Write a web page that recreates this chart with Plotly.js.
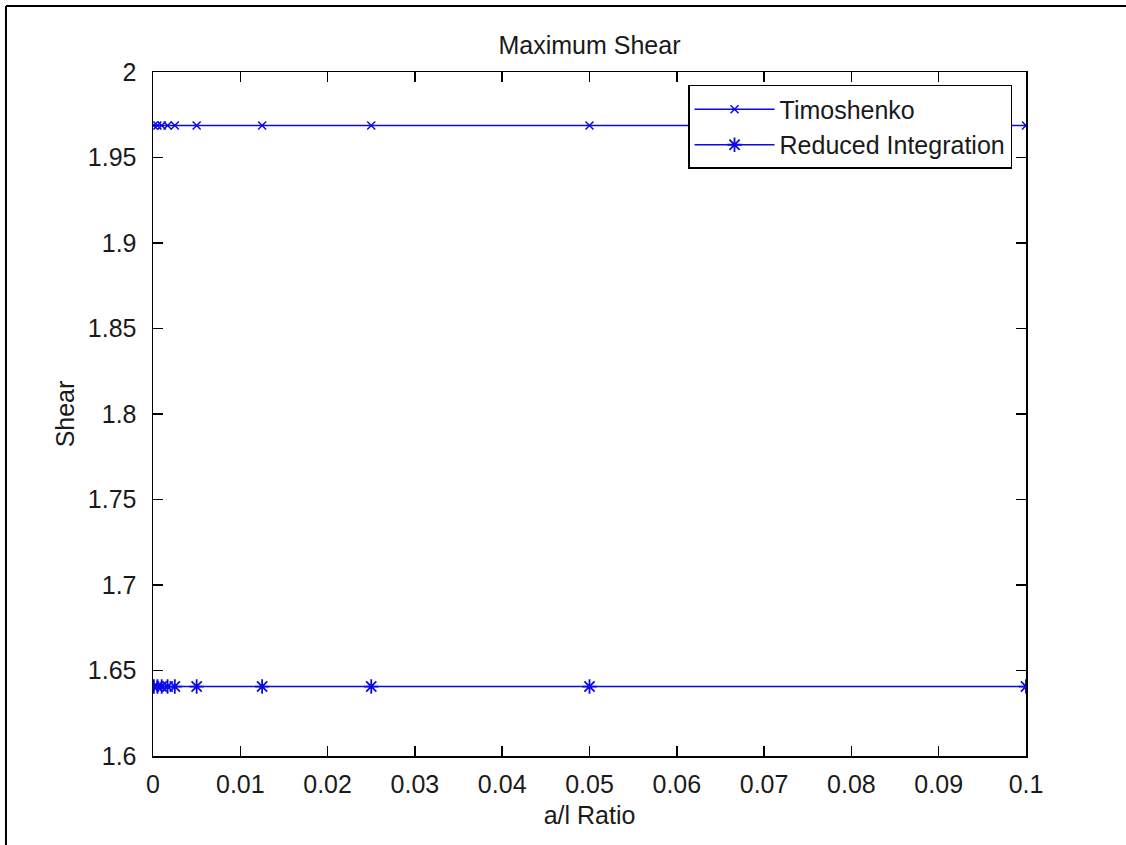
<!DOCTYPE html>
<html>
<head>
<meta charset="utf-8">
<script src="https://cdn.plot.ly/plotly-3.0.1.min.js"></script>
<style>
html,body{margin:0;padding:0;background:#fff;}
#chart{width:1126px;height:845px;}
</style>
</head>
<body>
<div id="chart"></div>
<script>
// a/l ratios
var ratios = [0.0001, 0.0005, 0.001, 0.00167, 0.0025, 0.005, 0.0125, 0.025, 0.05, 0.1];
var timoshenkoShear = [1.96875, 1.96875, 1.96875, 1.96875, 1.96875, 1.96875, 1.96875, 1.96875, 1.96875, 1.96875];
var reducedShear = [1.640625, 1.640625, 1.640625, 1.640625, 1.640625, 1.640625, 1.640625, 1.640625, 1.640625, 1.640625];
var xTicks = [0, 0.01, 0.02, 0.03, 0.04, 0.05, 0.06, 0.07, 0.08, 0.09, 0.1];
var xTickLabels = ['0', '0.01', '0.02', '0.03', '0.04', '0.05', '0.06', '0.07', '0.08', '0.09', '0.1'];
var yTicks = [1.6, 1.65, 1.7, 1.75, 1.8, 1.85, 1.9, 1.95, 2];
var yTickLabels = ['1.6', '1.65', '1.7', '1.75', '1.8', '1.85', '1.9', '1.95', '2'];

var font = {family: 'Liberation Sans, Arial, sans-serif', size: 25, color: '#1a1a1a'};

var traces = [
  {
    x: ratios, y: timoshenkoShear, name: 'Timoshenko', mode: 'lines+markers',
    line: {color: '#0a0ae6', width: 1.5},
    marker: {symbol: 'x-thin-open', size: 8, color: '#0a0ae6', line: {color: '#0a0ae6', width: 1.5}}
  },
  {
    x: ratios, y: reducedShear, name: 'Reduced Integration', mode: 'lines+markers',
    line: {color: '#0a0ae6', width: 1.5},
    marker: {symbol: 'asterisk-open', size: 12, color: '#0a0ae6', line: {color: '#0a0ae6', width: 1.8}}
  }
];

var layout = {
  width: 1126, height: 845,
  margin: {l: 153, r: 100, t: 72, b: 89, pad: 0},
  paper_bgcolor: '#ffffff', plot_bgcolor: '#ffffff',
  font: font,
  showlegend: true,
  title: {text: 'Maximum Shear', font: font, x: 0.5, xref: 'paper', xanchor: 'center', y: 1 - 45/845, yanchor: 'middle'},
  xaxis: {
    range: [0, 0.1], tickvals: xTicks, ticktext: xTickLabels,
    ticks: 'inside', ticklen: 10, tickwidth: 1.5, tickcolor: '#000',
    showline: true, linecolor: '#000', linewidth: 1.5, mirror: 'ticks',
    showgrid: false, zeroline: false, ticklabelstandoff: 5,
    tickfont: font,
    title: {text: 'a/l Ratio', font: font, standoff: 10}
  },
  yaxis: {
    range: [1.6, 2], tickvals: yTicks, ticktext: yTickLabels,
    ticks: 'inside', ticklen: 10, tickwidth: 1.5, tickcolor: '#000',
    showline: true, linecolor: '#000', linewidth: 1.5, mirror: 'ticks',
    showgrid: false, zeroline: false, ticklabelstandoff: 10,
    tickfont: font,
    title: {text: 'Shear', font: font, standoff: 6}
  },
  legend: {
    x: 0.984, xanchor: 'right', y: 0.981, yanchor: 'top',
    bgcolor: '#ffffff', bordercolor: '#000', borderwidth: 1.5,
    font: font, itemwidth: 80, tracegroupgap: 0
  },
  shapes: [
    {type: 'line', xref: 'paper', yref: 'paper', x0: -0.1684, x1: 1.2, y0: 1 + 66/684, y1: 1 + 66/684,
     line: {color: '#000', width: 2}, layer: 'below'},
    {type: 'line', xref: 'paper', yref: 'paper', x0: -0.1684, x1: -0.1684, y0: -0.2, y1: 1 + 66/684,
     line: {color: '#000', width: 2}, layer: 'below'}
  ]
};

Plotly.newPlot('chart', traces, layout, {displayModeBar: false, staticPlot: true});
</script>
</body>
</html>
